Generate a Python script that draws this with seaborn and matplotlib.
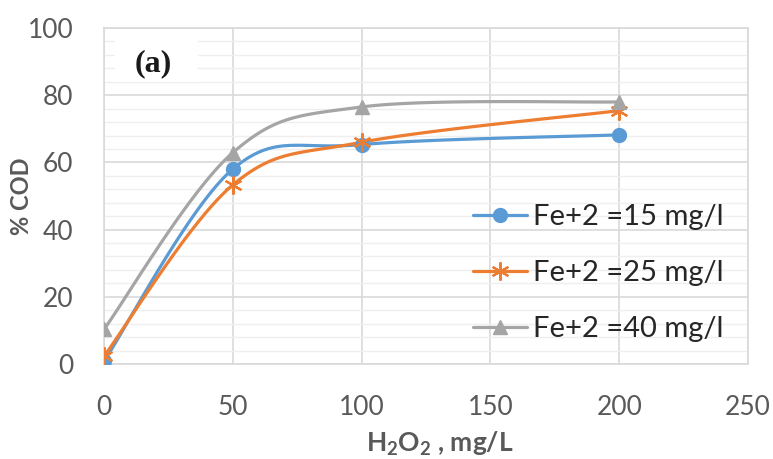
import numpy as np
import pandas as pd
import matplotlib
matplotlib.use("Agg")
import matplotlib.pyplot as plt
import seaborn as sns
from matplotlib.lines import Line2D
from matplotlib.patches import Rectangle
from matplotlib.ticker import MultipleLocator

# data
h2o2 = [0, 50, 100, 200]
cod_fe15 = [0.8, 58.0, 65.3, 68.2]
cod_fe25 = [2.3, 53.3, 66.0, 75.4]
cod_fe40 = [10.3, 62.9, 76.5, 78.0]
series_labels = ["Fe+2 =15 mg/l", "Fe+2 =25 mg/l", "Fe+2 =40 mg/l"]

colores = ["#5B9BD5", "#ED7D31", "#A5A5A5"]
marcadores = ["o", (6, 2, 0), "^"]


def curva_suave(x, y, sx, sy, n=40):
    # bezier tipo Excel (Catmull-Rom) calculada en escala de pantalla
    p = np.column_stack([np.asarray(x, float) * sx, np.asarray(y, float) * sy])
    pts = np.vstack([p[0], p, p[-1]])
    out = []
    t = np.linspace(0, 1, n)[:, None]
    for i in range(1, len(pts) - 2):
        p0, p1, p2, p3 = pts[i - 1], pts[i], pts[i + 1], pts[i + 2]
        c1 = p1 + (p2 - p0) / 6
        c2 = p2 - (p3 - p1) / 6
        seg = ((1 - t) ** 3) * p1 + 3 * ((1 - t) ** 2) * t * c1 + 3 * (1 - t) * t ** 2 * c2 + t ** 3 * p2
        out.append(seg if i == 1 else seg[1:])
    out = np.vstack(out)
    return out[:, 0] / sx, out[:, 1] / sy


sns.set_theme(style="white")
plt.rcParams["font.family"] = ["Lato", "DejaVu Sans"]
plt.rcParams["mathtext.fontset"] = "custom"
plt.rcParams["mathtext.rm"] = "Lato"
plt.rcParams["mathtext.bf"] = "Lato:bold"

fig = plt.figure(figsize=(7.73, 4.59), dpi=100)
ax = fig.add_axes([104 / 773, 95 / 459, 644 / 773, 336 / 459])

# escala de pixeles por unidad para suavizar
sx = 644 / 250
sy = 336 / 100

df = pd.DataFrame({"H2O2": h2o2, series_labels[0]: cod_fe15,
                   series_labels[1]: cod_fe25, series_labels[2]: cod_fe40})

handles = []
for lab, col, mk in zip(series_labels, colores, marcadores):
    cx, cy = curva_suave(df["H2O2"], df[lab], sx, sy)
    sns.lineplot(x=cx, y=cy, sort=False, color=col, linewidth=2.3, ax=ax, zorder=3)
    es_estrella = mk == (6, 2, 0)
    ms = 13 if es_estrella else 10
    mew = 1.6 if es_estrella else 1
    ax.plot(df["H2O2"], df[lab], ls="none", marker=mk, markersize=ms,
            markeredgecolor=col, markeredgewidth=mew, color=col, zorder=4)
    handles.append(Line2D([0], [0], color=col, lw=2.3, marker=mk, markersize=ms,
                          markeredgewidth=mew, markeredgecolor=col))

ax.set_xlim(0, 250)
ax.set_ylim(0, 100)
ax.xaxis.set_major_locator(MultipleLocator(50))
ax.yaxis.set_major_locator(MultipleLocator(20))
ax.yaxis.set_minor_locator(MultipleLocator(4))
ax.grid(which="major", color="#D9D9D9", lw=1.2, zorder=0)
ax.grid(which="minor", axis="y", color="#EFEFEF", lw=1.0, zorder=0)
ax.tick_params(which="both", length=0, labelsize=19, labelcolor="#595959", pad=22)
for s in ax.spines.values():
    s.set_color("#D9D9D9")
    s.set_linewidth(1.2)

ax.set_xlabel("$\\mathbf{H_2O_2}$ , mg/L", fontsize=19, fontweight="bold", color="#595959")
ax.set_ylabel("% COD", fontsize=17, fontweight="bold", color="#595959")
ax.xaxis.set_label_coords((440 - 104) / 644, -(430 - 364) / 336)
ax.yaxis.set_label_coords((33 - 104) / 644, (364 - 196) / 336)

# recuadro blanco detras del "(a)"
ax.add_patch(Rectangle(((115 - 104) / 644, (364 - 82) / 336), 83 / 644, 45 / 336,
                       transform=ax.transAxes, facecolor="white", edgecolor="none", zorder=1))
ax.text((153 - 104) / 644, (364 - 64) / 336, "(a)", transform=ax.transAxes,
        fontsize=23, fontweight="bold", family="Liberation Serif",
        ha="center", va="center", color="#1a1a1a", zorder=2)

ax.legend(handles, series_labels, loc="upper left",
          bbox_to_anchor=((473 - 104) / 644, (364 - 204) / 336),
          frameon=False, fontsize=21, labelcolor="#262626", borderpad=0,
          borderaxespad=0, handlelength=1.85, handletextpad=0.2, labelspacing=1.03)

fig.savefig("out.png", dpi=100)
